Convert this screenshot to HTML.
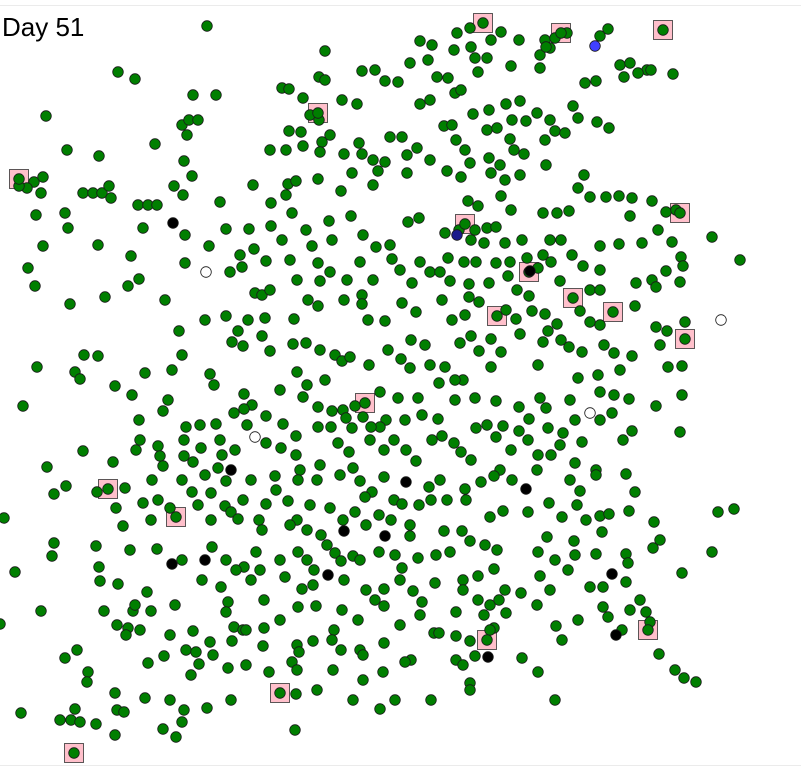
<!DOCTYPE html>
<html><head><meta charset="utf-8"><style>
html,body{margin:0;padding:0;background:#fff;}
svg{display:block;}
</style></head><body>
<svg id="chart" width="801" height="767" viewBox="0 0 801 767" xmlns="http://www.w3.org/2000/svg">
<rect x="0" y="0" width="801" height="767" fill="#fff"/>
<line x1="0" y1="5.5" x2="801" y2="5.5" stroke="#ebebeb" stroke-width="1"/>
<line x1="0" y1="765.5" x2="801" y2="765.5" stroke="#ebebeb" stroke-width="1"/>
<g id="squares"></g><g id="pts"></g>
<text x="2" y="36" font-family="Liberation Sans, sans-serif" font-size="26" fill="#000">Day 51</text>
</svg>
<script>
const squaresX=[483,561,663,318,19,465,680,529,573,497,613,685,365,108,176,487,648,280,74];
const squaresY=[23,33,30,113,179,224,213,272,298,316,312,339,403,489,517,640,630,693,753];
const blackX=[173,530,231,406,526,344,385,172,205,328,612,616,488];
const blackY=[223,271,470,482,489,531,536,564,560,575,574,635,657];
const whiteX=[206,721,590,255];
const whiteY=[272,320,413,437];
const blueX=[595,457];
const blueY=[46,235];
const blueFill=["#4040ff","#1a1a8c"];
const greenPts=[
[207,26],[457,33],[470,28],[420,41],[432,45],[454,50],[471,47],[491,40],[501,32],[519,40],[545,40],[555,38],[567,33],[608,29],[600,36],[540,55],[550,48],[410,63],[428,60],[475,58],[487,58],[511,66],[540,68],[325,51],[546,47],[620,65],[630,63],[647,70],[673,74],[638,73],[651,70],
[118,72],[135,79],[319,77],[325,80],[362,71],[375,70],[385,81],[398,82],[437,77],[448,78],[478,72],[455,93],[461,90],[585,83],[596,81],[624,77],[506,104],[520,101],[573,106],[537,113],[46,116],[193,95],[216,95],[282,88],[289,89],[303,98],[310,115],[319,120],[342,100],[357,104],[420,104],[430,100],[473,114],[489,110],[512,120],[526,121],[550,120],[578,118],[597,122],[609,128],
[182,125],[189,120],[198,120],[187,135],[155,144],[99,156],[67,150],[289,131],[301,132],[322,142],[330,135],[286,150],[270,150],[303,146],[320,152],[344,154],[359,143],[362,154],[373,160],[385,162],[390,137],[402,137],[407,155],[417,148],[430,160],[444,126],[452,125],[456,140],[465,150],[487,130],[497,128],[510,139],[514,150],[524,154],[545,140],[555,131],[565,133],[470,163],[489,158],[500,165],[546,165],[184,161],
[34,182],[43,177],[27,188],[19,186],[83,193],[93,193],[102,193],[111,198],[109,186],[174,186],[192,176],[183,195],[138,205],[148,205],[157,205],[253,185],[288,184],[296,181],[318,179],[341,191],[352,173],[373,185],[378,171],[407,173],[447,171],[461,177],[491,173],[505,180],[520,175],[468,201],[478,206],[501,196],[511,210],[584,175],[578,188],[590,197],[606,197],[619,196],[632,198],[652,201],[666,212],[676,210],[543,213],[557,213],[569,211],[41,193],[36,215],[65,213],[286,195],[271,203],[292,213],[220,202],
[68,228],[98,245],[143,228],[185,235],[226,229],[249,229],[254,249],[271,226],[282,240],[290,260],[306,230],[312,246],[329,221],[332,240],[351,216],[363,235],[376,247],[390,245],[408,222],[419,218],[445,233],[459,230],[475,230],[487,228],[496,227],[471,240],[484,243],[505,243],[522,240],[543,255],[550,240],[561,240],[572,255],[583,266],[600,246],[619,244],[630,216],[658,230],[672,242],[681,257],[712,237],[740,260],[642,243],[28,268],[43,246],[131,256],[185,263],[209,246],[240,255],[242,267],[266,261],[318,263],[330,272],[360,262],[392,259],[420,262],[448,258],[464,262],[476,262],[496,263],[510,262],[527,258],[538,268],[551,262],[600,270],[652,280],[666,271],[683,266],[680,282],[35,286],
[70,304],[105,297],[128,286],[139,279],[165,300],[230,272],[255,293],[262,295],[270,290],[297,280],[320,281],[347,280],[362,295],[373,280],[400,270],[412,283],[430,272],[440,272],[450,281],[469,284],[469,297],[489,283],[508,276],[517,290],[529,296],[560,281],[590,290],[600,290],[636,283],[656,287],[179,331],[205,320],[226,316],[248,320],[265,318],[294,319],[308,300],[318,306],[344,300],[362,304],[368,320],[385,321],[402,303],[416,312],[442,300],[452,320],[465,315],[479,302],[506,310],[516,319],[532,311],[545,314],[557,324],[580,311],[590,322],[600,325],[635,306],[656,327],[667,331],[685,322],
[84,355],[98,356],[37,367],[75,372],[80,379],[145,373],[172,370],[182,355],[232,342],[238,331],[243,346],[262,336],[270,351],[293,344],[306,343],[320,350],[335,355],[342,361],[350,357],[369,365],[388,350],[401,359],[411,340],[425,345],[430,365],[445,367],[460,343],[471,336],[479,351],[491,339],[501,352],[520,334],[543,342],[548,331],[561,340],[569,347],[582,352],[604,345],[614,353],[632,356],[660,345],[668,367],[682,366],[620,370],[598,375],[578,378],[538,365],[491,367],[463,380],[210,374],[297,372],[307,385],[325,380],[410,368],[439,383],[455,380],
[23,406],[115,386],[132,395],[168,400],[214,385],[244,394],[252,405],[280,390],[303,397],[318,407],[332,411],[343,410],[355,406],[380,392],[398,398],[386,420],[380,427],[418,398],[422,415],[438,419],[455,400],[475,398],[496,401],[519,407],[540,398],[546,408],[570,400],[600,392],[614,395],[629,399],[656,406],[682,395],[139,420],[163,411],[186,427],[200,425],[216,424],[234,413],[244,409],[266,416],[283,424],[296,436],[318,427],[331,427],[346,418],[352,428],[363,417],[371,427],[405,420],[476,428],[487,425],[503,426],[519,431],[529,419],[548,428],[563,433],[575,420],[600,420],[612,413],[680,432],
[140,440],[136,450],[113,462],[47,467],[83,451],[158,446],[160,456],[163,466],[184,440],[184,456],[193,462],[201,448],[220,440],[222,455],[235,450],[247,425],[266,443],[281,448],[296,455],[300,470],[320,465],[338,443],[349,452],[353,468],[370,440],[384,450],[394,440],[406,450],[416,461],[432,440],[442,436],[454,443],[461,452],[471,460],[496,437],[511,450],[528,440],[538,455],[551,455],[560,445],[575,463],[596,470],[623,440],[632,431],[582,442],[500,470],[512,480],[125,488],[152,480],[182,480],[205,475],[218,468],[226,481],[251,480],[275,476],[276,490],[298,480],[317,480],[340,475],[360,481],[372,492],[384,477],[394,500],[429,487],[440,480],[465,489],[481,482],[494,476],[537,470],[570,480],[580,491],[596,475],[626,474],[635,492],
[54,494],[66,486],[97,492],[116,508],[143,503],[158,500],[170,508],[192,492],[198,505],[211,493],[225,506],[231,512],[243,500],[259,520],[266,504],[288,501],[297,520],[310,505],[330,508],[343,520],[355,512],[365,497],[379,515],[391,520],[402,504],[410,525],[419,505],[431,500],[447,500],[466,500],[490,517],[503,511],[528,512],[549,503],[562,517],[577,505],[586,520],[600,516],[609,514],[629,511],[654,522],[718,512],[734,509],[4,518],[123,526],[151,520],[211,520],[238,519],[262,530],[290,525],[307,530],[321,535],[327,545],[366,525],[410,536],[444,531],[462,531],[470,541],[547,537],[574,541],[602,532],[660,540],[712,552],[54,543],[52,556],
[96,546],[130,550],[157,549],[182,560],[212,547],[226,560],[244,567],[256,552],[260,570],[280,560],[298,552],[307,560],[314,570],[335,553],[341,561],[353,556],[360,560],[379,552],[395,555],[402,568],[418,558],[436,555],[450,552],[485,545],[497,550],[538,552],[555,560],[568,570],[575,555],[596,554],[626,554],[628,563],[653,548],[15,572],[99,567],[100,581],[118,584],[147,592],[202,580],[221,587],[228,602],[236,570],[251,580],[264,600],[285,577],[302,589],[313,585],[344,580],[366,590],[375,600],[384,589],[400,580],[413,591],[422,602],[435,583],[463,580],[478,576],[494,569],[505,590],[540,576],[550,590],[590,587],[603,587],[626,582],[640,600],[682,573],
[41,611],[104,611],[117,625],[128,628],[133,611],[135,605],[151,611],[175,605],[193,631],[226,612],[234,627],[243,630],[264,628],[280,620],[298,607],[316,606],[334,630],[342,610],[358,620],[384,606],[400,625],[420,615],[434,633],[456,612],[463,590],[478,600],[484,615],[490,605],[494,628],[499,600],[506,613],[521,593],[537,605],[556,626],[578,620],[603,607],[630,610],[646,612],[650,622],[0,624],[126,635],[140,630],[170,635],[186,650],[196,652],[210,642],[232,641],[246,630],[263,646],[297,645],[313,641],[332,640],[360,650],[384,643],[411,660],[439,633],[456,636],[470,641],[490,630],[562,640],[608,617],[622,630],[659,654],
[65,658],[77,650],[88,672],[148,663],[164,656],[191,675],[199,664],[213,655],[228,668],[246,665],[269,672],[292,662],[299,652],[297,670],[333,670],[341,650],[363,655],[383,672],[405,662],[456,660],[463,665],[475,656],[522,658],[538,672],[675,670],[684,678],[696,682],[87,682],[115,693],[145,698],[170,700],[231,700],[296,694],[317,690],[353,700],[363,680],[395,700],[431,700],[470,683],[555,700],[21,713],[75,709],[117,710],[124,712],[184,710],[207,708],[380,709],[470,690],[60,720],[71,720],[80,722],[96,724],[163,729],[176,737],[182,722],[115,735],[295,730]
];
const greenX=greenPts.map(p=>p[0]);
const greenY=greenPts.map(p=>p[1]);

const W=801,H=767;
function xScale(v){return v/801*W;}
function yScale(v){return v/767*H;}
const NS="http://www.w3.org/2000/svg";
const sq=document.getElementById('squares'), pts=document.getElementById('pts');
function circ(parent,x,y,fill,name){
  const c=document.createElementNS(NS,'circle');
  c.setAttribute('cx',xScale(x));c.setAttribute('cy',yScale(y));c.setAttribute('r',5.3);
  c.setAttribute('fill',fill);c.setAttribute('stroke','#1a1a1a');c.setAttribute('stroke-width','0.8');
  
  
  parent.appendChild(c);
}
squaresX.forEach((x,i)=>{
  const r=document.createElementNS(NS,'rect');
  r.setAttribute('x',xScale(x)-9.5);r.setAttribute('y',yScale(squaresY[i])-9.5);
  r.setAttribute('width',19);r.setAttribute('height',19);
  r.setAttribute('fill','#ffc0cb');r.setAttribute('stroke','#333');r.setAttribute('stroke-width','0.8');
  
  
  sq.appendChild(r);
});
greenX.forEach((x,i)=>circ(pts,x,greenY[i],'#007f00','green-point'));
squaresX.forEach((x,i)=>circ(pts,x,squaresY[i],'#007f00','green-point'));
blackX.forEach((x,i)=>circ(pts,x,blackY[i],'#000000','black-point'));
whiteX.forEach((x,i)=>circ(pts,x,whiteY[i],'#ffffff','white-point'));
blueX.forEach((x,i)=>circ(pts,x,blueY[i],blueFill[i],'blue-point'));
</script>
</body></html>
